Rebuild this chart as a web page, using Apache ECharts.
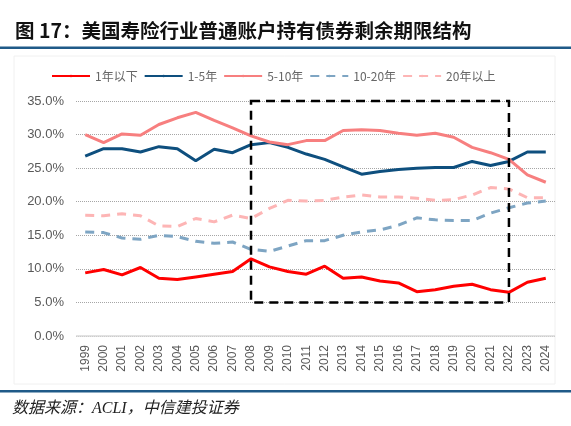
<!DOCTYPE html>
<html><head><meta charset="utf-8">
<script src="https://cdn.jsdelivr.net/npm/echarts@6/dist/echarts.min.js"></script>
<style>html,body{margin:0;padding:0;background:#fff}#c{width:571px;height:426px}</style>
</head><body><div id="c"></div>
<script>
const years = ['1999','2000','2001','2002','2003','2004','2005','2006','2007','2008','2009','2010','2011','2012','2013','2014','2015','2016','2017','2018','2019','2020','2021','2022','2023','2024'];
const yTicks = [0,5,10,15,20,25,30,35];
const seriesNames = ['1年以下','1-5年','5-10年','10-20年','20年以上'];
const under1 = [9.4,9.9,9.1,10.2,8.6,8.4,8.8,9.2,9.6,11.5,10.3,9.6,9.2,10.4,8.6,8.8,8.2,7.9,6.6,6.9,7.4,7.7,6.9,6.5,8.0,8.6];
const y1to5 = [26.8,27.9,27.9,27.4,28.2,27.9,26.1,27.8,27.3,28.5,28.8,28.1,27.1,26.3,25.2,24.1,24.5,24.8,25.0,25.1,25.1,26.0,25.4,26.0,27.4,27.4];
const y5to10 = [30.0,28.8,30.1,29.9,31.5,32.5,33.3,32.1,31.0,29.8,28.9,28.5,29.1,29.1,30.6,30.7,30.6,30.2,29.9,30.2,29.6,28.1,27.3,26.3,24.0,22.9];
const y10to20 = [15.5,15.4,14.6,14.4,15.0,14.8,14.1,13.8,14.0,12.9,12.6,13.4,14.2,14.2,15.0,15.5,15.8,16.5,17.6,17.3,17.2,17.2,18.3,19.1,19.8,20.1];
const over20 = [18.0,17.9,18.2,17.9,16.4,16.3,17.5,17.0,18.0,17.5,19.0,20.2,20.1,20.2,20.7,21.0,20.7,20.7,20.5,20.2,20.3,21.0,22.1,21.9,20.6,20.6];
const boxRange = {fromYear:'2008', toYear:'2022', low:5, high:35};

const chart = echarts.init(document.getElementById('c'), null, {renderer:'canvas'});
const cjk = '"Noto Sans CJK SC", "Liberation Sans", sans-serif';
function lineSeries(name, data, color, dashed){
  return {
    name, type:'line', data, symbol:'none', smooth:false,
    lineStyle:{color, width:3, type: dashed ? [9,7] : 'solid'},
    itemStyle:{color},
    z:2
  };
}
const series = [
  lineSeries(seriesNames[0], under1, '#FF0000', false),
  lineSeries(seriesNames[1], y1to5, '#0E4F7E', false),
  lineSeries(seriesNames[2], y5to10, '#F77F7F', false),
  lineSeries(seriesNames[3], y10to20, '#7EA5C3', true),
  lineSeries(seriesNames[4], over20, '#FDB5B5', true)
];
series[0].markArea = {
  silent:true,
  itemStyle:{color:'rgba(0,0,0,0)', borderColor:'#000', borderWidth:2.5, borderType:[9,6]},
  data:[[{xAxis:boxRange.fromYear, yAxis:boxRange.high},{xAxis:boxRange.toYear, yAxis:boxRange.low}]],
  z:5
};
chart.setOption({
  animation:false,
  backgroundColor:'#fff',
  title:{
    text:'图 17：美国寿险行业普通账户持有债券剩余期限结构',
    left:10, top:16,
    textStyle:{fontFamily:cjk, fontSize:19.5, fontWeight:'bold', color:'#111'}
  },
  legend:{
    top:65, left:46,
    itemWidth:38, itemHeight:3, itemGap:6,
    textStyle:{fontFamily:cjk, fontSize:12, color:'#666'},
    data:seriesNames
  },
  grid:{left:76, right:16, top:101, bottom:90},
  xAxis:{
    type:'category', data:years, boundaryGap:true,
    axisLine:{show:false}, axisTick:{show:false},
    axisLabel:{rotate:90, fontSize:12, color:'#595959', margin:9, fontFamily:'"Liberation Sans", Arial, sans-serif'}
  },
  yAxis:{
    type:'value', min:yTicks[0], max:yTicks[yTicks.length-1], interval:5,
    axisLine:{show:false}, axisTick:{show:false},
    axisLabel:{fontSize:13, color:'#595959', margin:12, fontFamily:'"Liberation Sans", Arial, sans-serif',
      formatter:v=>v.toFixed(1)+'%'},
    splitLine:{lineStyle:{color:'#A6A6A6', type:[1,1], width:1}}
  },
  graphic:[
    {type:'rect', shape:{x:14, y:56, width:541, height:328}, style:{fill:'none', stroke:'#F0F0F0', lineWidth:1}, silent:true, z:-1},
    {type:'line', shape:{x1:76, y1:336, x2:555, y2:336}, style:{stroke:'#D9D9D9', lineWidth:1.5}, z:1},
    {type:'rect', shape:{x:0, y:46.5, width:571, height:2.5}, style:{fill:'#1F5A88'}},
    {type:'rect', shape:{x:0, y:390, width:571, height:2.5}, style:{fill:'#1F5A88'}},
    {type:'text', left:12, top:401, style:{text:'数据来源：ACLI，中信建投证券', font:'italic 16px "Liberation Serif", "Noto Sans CJK SC", serif', fill:'#222'}}
  ],
  series
});
</script></body></html>
